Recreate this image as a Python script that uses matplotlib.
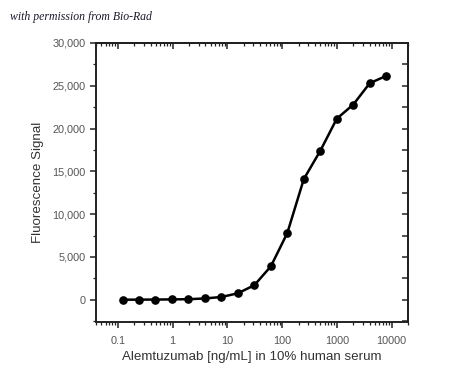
import matplotlib
matplotlib.use("Agg")
import matplotlib.pyplot as plt
from matplotlib.ticker import LogLocator, FixedLocator, MultipleLocator, FuncFormatter, NullFormatter

# Data
conc = [0.122, 0.244, 0.488, 0.977, 1.95, 3.9, 7.8, 15.6, 31.25, 62.5,
        125, 250, 500, 1000, 2000, 4000, 8000]
signal = [5, 10, 20, 40, 60, 150, 320, 750, 1700, 3900,
          7800, 14100, 17400, 21150, 22800, 25300, 26150]
xticks = [0.1, 1, 10, 100, 1000, 10000]
xtick_labels = ["0.1", "1", "10", "100", "1000", "10000"]
yticks = [0, 5000, 10000, 15000, 20000, 25000, 30000]

plt.rcParams['font.family'] = ['Liberation Sans', 'DejaVu Sans']

fig = plt.figure(figsize=(4.5, 3.87), dpi=100)
ax = fig.add_axes([0.2133, 0.168, 0.6934, 0.721])

ax.plot(conc, signal, color='black', lw=1.8, marker='o', markersize=5.2,
        markerfacecolor='black', markeredgecolor='black')

ax.set_xscale('log')
ax.set_xlim(0.04, 20000)
ax.set_ylim(-2600, 30000)

ax.xaxis.set_major_locator(FixedLocator(xticks))
ax.set_xticklabels(xtick_labels)
ax.xaxis.set_minor_locator(LogLocator(base=10, subs=range(2, 10), numticks=20))
ax.xaxis.set_minor_formatter(NullFormatter())
ax.yaxis.set_major_locator(FixedLocator(yticks))
ax.yaxis.set_minor_locator(MultipleLocator(2500))
ax.yaxis.set_major_formatter(FuncFormatter(lambda v, p: f"{int(v):,}"))

for s in ax.spines.values():
    s.set_linewidth(1.4)
    s.set_color('#222222')

ax.tick_params(axis='both', which='major', direction='out', length=4, width=1.1,
               labelsize=7.8, labelcolor='#555555', color='#222222')
ax.tick_params(axis='both', which='minor', direction='out', length=2.5, width=0.9,
               color='#222222')
ax.tick_params(axis='x', which='major', pad=6)

# inward ticks on top and right
axt = ax.secondary_xaxis('top')
axt.xaxis.set_major_locator(FixedLocator(xticks))
axt.xaxis.set_minor_locator(LogLocator(base=10, subs=range(2, 10), numticks=20))
axt.tick_params(which='major', direction='in', length=4, width=1.1, labeltop=False, color='#222222')
axt.tick_params(which='minor', direction='in', length=2.5, width=0.9, color='#222222')
axt.set_xticklabels([])
axt.spines['top'].set_linewidth(1.4)

axr = ax.secondary_yaxis('right')
axr.yaxis.set_major_locator(FixedLocator(yticks))
axr.yaxis.set_minor_locator(MultipleLocator(2500))
axr.tick_params(which='major', direction='in', length=4, width=1.1, labelright=False, color='#222222')
axr.tick_params(which='minor', direction='in', length=4, width=1.1, color='#222222')
axr.set_yticklabels([])
axr.spines['right'].set_linewidth(1.4)

ax.set_xlabel("Alemtuzumab [ng/mL] in 10% human serum", fontsize=9.6, color='#333333', labelpad=4)
ax.set_ylabel("Fluorescence Signal", fontsize=9.6, color='#333333', labelpad=6)

fig.text(0.022, 0.955, "with permission from Bio-Rad", fontsize=8.5, style='italic',
         family=['Liberation Serif', 'DejaVu Serif'], color='#1a1a2e', va='center', ha='left')

fig.savefig("out.png", dpi=100)
